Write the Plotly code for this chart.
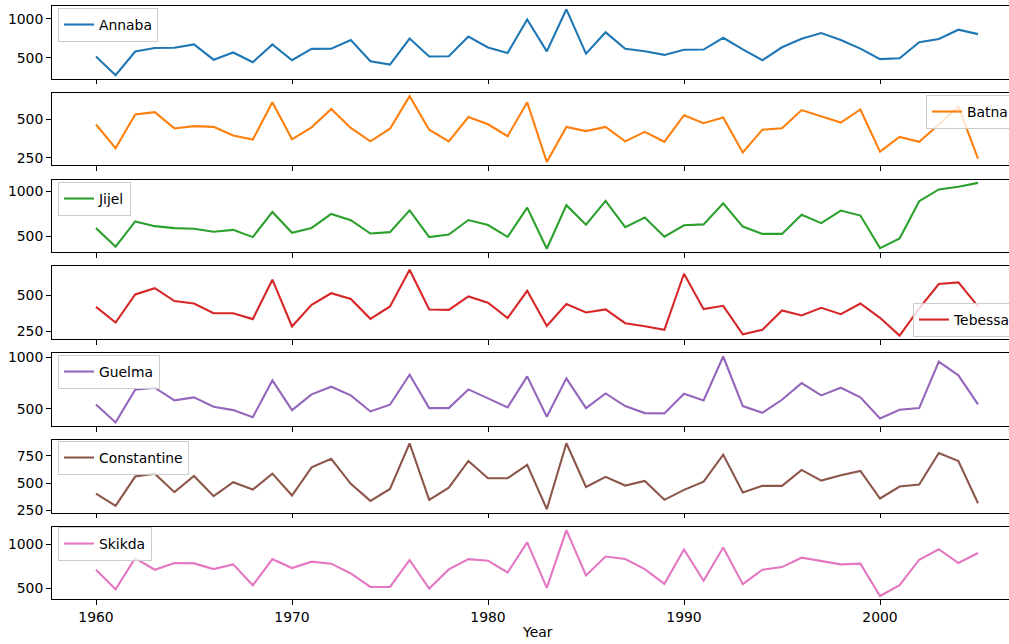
import plotly.graph_objects as go

years = list(range(1960, 2006))

annaba = [515, 275, 580, 625, 630, 672, 475, 568, 442, 672, 468, 615, 617, 728, 455, 412, 748, 517, 520, 773,
          633, 562, 993, 582, 1125, 553, 828, 617, 583, 537, 604, 606, 758, 607, 468, 635, 745, 818, 730, 618,
          482, 493, 700, 742, 862, 805]
batna = [465, 313, 530, 545, 440, 455, 450, 395, 368, 608, 370, 447, 565, 443, 357, 438, 648, 432, 357, 513,
         467, 390, 608, 224, 450, 423, 450, 357, 418, 354, 525, 474, 510, 285, 432, 441, 558, 517, 478, 562,
         291, 385, 354, 465, 580, 246]
jijel = [590, 383, 665, 612, 590, 583, 550, 571, 490, 770, 538, 592, 748, 678, 530, 545, 788, 490, 518, 680,
         625, 492, 818, 360, 845, 628, 893, 600, 707, 495, 622, 632, 865, 607, 526, 526, 738, 645, 785, 730,
         368, 474, 890, 1020, 1050, 1093]
tebessa = [421, 312, 507, 550, 461, 444, 377, 377, 336, 609, 285, 435, 515, 475, 338, 424, 678, 403, 400, 493,
           449, 343, 532, 289, 440, 382, 403, 308, 287, 262, 650, 405, 428, 231, 262, 396, 361, 414, 370, 444,
           345, 222, 410, 579, 590, 424]
guelma = [542, 368, 684, 703, 581, 610, 519, 487, 419, 774, 487, 639, 713, 629, 474, 539, 829, 506, 506, 687,
          600, 513, 813, 423, 794, 506, 648, 526, 458, 455, 645, 581, 1005, 526, 461, 587, 748, 629, 703, 610,
          406, 490, 506, 955, 823, 542]
constantine = [405, 293, 561, 588, 418, 567, 381, 509, 442, 588, 387, 646, 723, 494, 338, 448, 866, 348, 460, 704,
               546, 546, 668, 262, 866, 466, 558, 479, 521, 348, 439, 515, 762, 415, 476, 476, 622, 524, 573, 613,
               360, 470, 488, 777, 704, 317]
skikda = [710, 489, 840, 710, 786, 782, 718, 771, 534, 830, 729, 802, 779, 668, 515, 515, 821, 496, 714, 830,
          813, 679, 1020, 504, 1160, 645, 860, 832, 718, 550, 940, 584, 962, 546, 710, 740, 847, 813, 771, 779,
          412, 534, 824, 943, 786, 900]

names = ["Annaba", "Batna", "Jijel", "Tebessa", "Guelma", "Constantine", "Skikda"]
series = [annaba, batna, jijel, tebessa, guelma, constantine, skikda]
colors = ["#1f77b4", "#ff7f0e", "#2ca02c", "#d62728", "#9467bd", "#8c564b", "#e377c2"]
dticks = [500, 250, 500, 250, 500, 250, 500]
# legend placement: (left px, top px)
legend_pos = [(58, 8), (926, 95), (58, 182), (913, 303), (58, 355), (58, 441), (58, 527)]

W, H = 1009, 644
FONT = "DejaVu Sans"
FS = 13.9

fig = go.Figure()
layout = dict(
    width=W, height=H, margin=dict(l=0, r=0, t=0, b=0, autoexpand=False),
    paper_bgcolor="white", plot_bgcolor="white",
    font=dict(family=FONT, size=FS, color="black"),
    showlegend=True,
)

x_left_px = 52
x0_year, x0_px, px_per_year = 1960, 96, 19.6
xr = [x0_year - (x0_px - x_left_px) / px_per_year, x0_year + (W - x0_px) / px_per_year]

for i, (name, vals, col) in enumerate(zip(names, series, colors)):
    n = i + 1
    sfx = "" if n == 1 else str(n)
    lg = "legend" if n == 1 else f"legend{n}"
    fig.add_trace(go.Scatter(x=years, y=vals, mode="lines", name=name,
                             line=dict(color=col, width=2.1),
                             xaxis="x" + sfx, yaxis="y" + sfx, legend=lg))
    top = 6 + 86.8 * i
    bot = top + 72.5
    lo, hi = min(vals), max(vals)
    d = hi - lo
    yr = [lo - 0.05 * d, hi + 0.05 * d]
    layout["xaxis" + sfx] = dict(
        domain=[x_left_px / W, 1.0], range=xr, anchor="y" + sfx,
        showline=True, mirror=True, linecolor="black", linewidth=1.1,
        ticks="outside", ticklen=4.9, tickwidth=1.1, tickcolor="black",
        tickmode="linear", tick0=1960, dtick=10,
        showticklabels=(n == 7), showgrid=False, zeroline=False,
        tickfont=dict(family=FONT, size=FS, color="black"),
        **({} if n == 1 else {"matches": "x"}),
    )
    layout["yaxis" + sfx] = dict(
        domain=[1 - bot / H, 1 - top / H], range=yr, anchor="x" + sfx,
        showline=True, mirror=False, linecolor="black", linewidth=1.1,
        ticks="outside", ticklen=4.9, tickwidth=1.1, tickcolor="black",
        tickmode="linear", tick0=0, dtick=dticks[i],
        showgrid=False, zeroline=False,
        tickfont=dict(family=FONT, size=FS, color="black"),
    )
    lx, ly = legend_pos[i]
    layout[lg] = dict(
        x=lx / W, y=1 - ly / H, xanchor="left", yanchor="top",
        bgcolor="rgba(255,255,255,0.8)", bordercolor="#cccccc", borderwidth=1,
        font=dict(family=FONT, size=FS, color="black"),
        itemwidth=30, tracegroupgap=0,
    )

layout["annotations"] = [dict(
    text="Year", x=537 / W, y=1 - 632 / H, xref="paper", yref="paper",
    xanchor="center", yanchor="middle", showarrow=False,
    font=dict(family=FONT, size=FS, color="black"),
)]

fig.update_layout(**layout)
fig.write_html("out.html")
